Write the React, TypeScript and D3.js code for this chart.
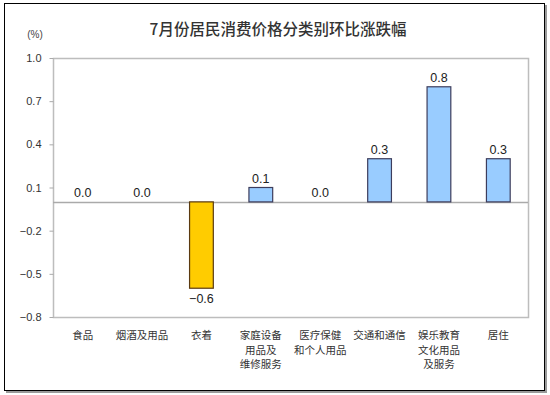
import { useEffect, useRef } from 'react';
import * as d3 from 'd3';

const categories = ['食品', '烟酒及用品', '衣着', '家庭设备用品及维修服务', '医疗保健和个人用品', '交通和通信', '娱乐教育文化用品及服务', '居住'];
const categoryLines = [
  ['食品'],
  ['烟酒及用品'],
  ['衣着'],
  ['家庭设备', '用品及', '维修服务'],
  ['医疗保健', '和个人用品'],
  ['交通和通信'],
  ['娱乐教育', '文化用品', '及服务'],
  ['居住'],
];
const values = [0.0, 0.0, -0.6, 0.1, 0.0, 0.3, 0.8, 0.3];
const yTicks = [1.0, 0.7, 0.4, 0.1, -0.2, -0.5, -0.8];

const W = 550;
const H = 395;

export default function App() {
  const svgRef = useRef<SVGSVGElement>(null);

  useEffect(() => {
    if (!svgRef.current) return;
    const svg = d3.select(svgRef.current);
    svg.selectAll('*').remove();

    const plot = { left: 53, top: 58, right: 528, bottom: 317 };

    // 外框 + 阴影
    svg.append('rect').attr('x', 6).attr('y', 5).attr('width', 541).attr('height', 388).attr('fill', '#9a9a9a');
    svg.append('rect').attr('x', 4.5).attr('y', 3.5).attr('width', 540).attr('height', 387)
      .attr('fill', '#fff').attr('stroke', '#000').attr('stroke-width', 1);

    // 标题
    svg.append('text').attr('x', 278).attr('y', 35).attr('text-anchor', 'middle')
      .attr('font-family', '"Noto Sans CJK SC", sans-serif').attr('font-size', 15.5)
      .attr('font-weight', 500).attr('fill', '#333')
      .text('7月份居民消费价格分类别环比涨跌幅');

    svg.append('text').attr('x', 35).attr('y', 38).attr('text-anchor', 'middle')
      .attr('font-family', '"Liberation Sans", Arial, sans-serif').attr('font-size', 10)
      .attr('fill', '#444').text('(%)');

    const x = d3.scaleBand<string>().domain(categories).range([plot.left, plot.right]).paddingInner(0.6).paddingOuter(0.3);
    const y = d3.scaleLinear().domain([-0.8, 1.0]).range([plot.bottom, plot.top]);

    // 绘图区边框
    svg.append('rect').attr('x', plot.left + 0.5).attr('y', plot.top + 0.5)
      .attr('width', plot.right - plot.left).attr('height', plot.bottom - plot.top)
      .attr('fill', 'none').attr('stroke', '#bdbdbd').attr('stroke-width', 1.5);

    // y 轴
    const yAxis = svg.append('g').attr('transform', `translate(${plot.left + 0.5},0)`)
      .call(d3.axisLeft(y).tickValues(yTicks).tickFormat(d3.format('.1f')).tickSize(4).tickPadding(8));
    yAxis.select('.domain').remove();
    yAxis.selectAll('line').attr('stroke', '#aaa');
    yAxis.selectAll('text').attr('font-family', '"Liberation Sans", Arial, sans-serif')
      .attr('font-size', 11).attr('fill', '#333');

    // 零线
    svg.append('line').attr('x1', plot.left).attr('x2', plot.right)
      .attr('y1', Math.round(y(0)) + 0.5).attr('y2', Math.round(y(0)) + 0.5)
      .attr('stroke', '#aaa').attr('stroke-width', 1.5);

    // 柱子
    const bw = x.bandwidth();
    categories.forEach((c, i) => {
      const v = values[i];
      const x0 = x(c)!;
      if (v !== 0) {
        svg.append('rect').attr('x', x0).attr('y', y(Math.max(0, v)))
          .attr('width', bw).attr('height', Math.abs(y(v) - y(0)))
          .attr('fill', v < 0 ? '#FFCC00' : '#99CCFF')
          .attr('stroke', v < 0 ? '#5a3a10' : '#3d3d5c').attr('stroke-width', 1.2);
      }
      svg.append('text').attr('x', x0 + bw / 2)
        .attr('y', v < 0 ? y(v) + 15 : y(v) - 5)
        .attr('text-anchor', 'middle')
        .attr('font-family', '"Liberation Sans", Arial, sans-serif').attr('font-size', 12.5)
        .attr('fill', '#222').text(d3.format('.1f')(v));

      // 类别标签
      categoryLines[i].forEach((line, j) => {
        svg.append('text').attr('x', x0 + bw / 2).attr('y', 339 + j * 14.5)
          .attr('text-anchor', 'middle')
          .attr('font-family', '"Noto Sans CJK SC", sans-serif').attr('font-size', 10.5)
          .attr('fill', '#333').text(line);
      });
    });
  }, []);

  return (
    <svg ref={svgRef} width={W} height={H} style={{ position: 'absolute', left: 0, top: 0, background: '#fff' }} />
  );
}
